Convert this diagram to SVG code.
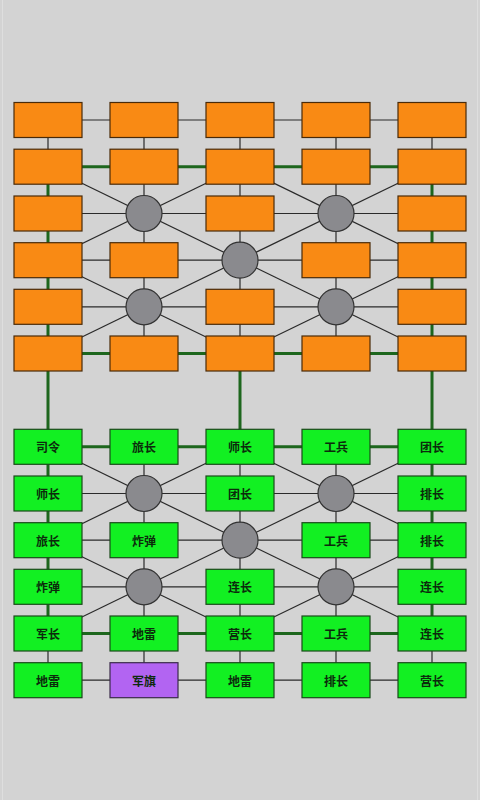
<svg xmlns="http://www.w3.org/2000/svg" width="480" height="800" viewBox="0 0 480 800">
<style>
.thin{stroke:#2a2a2a;stroke-width:1.2;fill:none}
.rail{stroke:#1d661d;stroke-width:3;fill:none}
.o{fill:#f98a14;stroke:#4a2a08;stroke-width:1.2}
.g{fill:#12f022;stroke:#1a4a1a;stroke-width:1.2}
.p{fill:#b264f2;stroke:#3a2a4a;stroke-width:1.2}
.camp{fill:#8a8a8e;stroke:#333;stroke-width:1.2}
text{font-family:"Noto Sans CJK SC","Noto Sans CJK TC",sans-serif;font-size:12px;font-weight:bold;fill:#0c2a0c;text-anchor:middle;dominant-baseline:central}
</style>
<rect width="480" height="800" fill="#d3d3d3"/>
<line x1="2.5" y1="0" x2="2.5" y2="800" stroke="#dedede" stroke-width="1"/>
<line x1="477.5" y1="0" x2="477.5" y2="800" stroke="#dedede" stroke-width="1"/>
<g id="connectors">
<g class="thin">
<line x1="48" y1="120" x2="432" y2="120"/>
<line x1="48" y1="213.5" x2="432" y2="213.5"/>
<line x1="48" y1="260.2" x2="432" y2="260.2"/>
<line x1="48" y1="306.8" x2="432" y2="306.8"/>
<line x1="48" y1="493.5" x2="432" y2="493.5"/>
<line x1="48" y1="540.2" x2="432" y2="540.2"/>
<line x1="48" y1="586.8" x2="432" y2="586.8"/>
<line x1="48" y1="680.2" x2="432" y2="680.2"/>
<line x1="48" y1="120" x2="48" y2="166.7"/>
<line x1="432" y1="120" x2="432" y2="166.7"/>
<line x1="48" y1="633.5" x2="48" y2="680.2"/>
<line x1="432" y1="633.5" x2="432" y2="680.2"/>
<line x1="144" y1="120" x2="144" y2="353.5"/>
<line x1="240" y1="120" x2="240" y2="353.5"/>
<line x1="336" y1="120" x2="336" y2="353.5"/>
<line x1="144" y1="446.8" x2="144" y2="680.2"/>
<line x1="240" y1="446.8" x2="240" y2="680.2"/>
<line x1="336" y1="446.8" x2="336" y2="680.2"/>
<line x1="48" y1="166.7" x2="432" y2="353.5"/>
<line x1="432" y1="166.7" x2="48" y2="353.5"/>
<line x1="240" y1="166.7" x2="48" y2="260.2"/>
<line x1="240" y1="166.7" x2="432" y2="260.2"/>
<line x1="48" y1="260.2" x2="240" y2="353.5"/>
<line x1="432" y1="260.2" x2="240" y2="353.5"/>
<line x1="48" y1="446.8" x2="432" y2="633.5"/>
<line x1="432" y1="446.8" x2="48" y2="633.5"/>
<line x1="240" y1="446.8" x2="48" y2="540.2"/>
<line x1="240" y1="446.8" x2="432" y2="540.2"/>
<line x1="48" y1="540.2" x2="240" y2="633.5"/>
<line x1="432" y1="540.2" x2="240" y2="633.5"/>
</g>
<g class="rail">
<line x1="48" y1="166.7" x2="432" y2="166.7"/>
<line x1="48" y1="353.5" x2="432" y2="353.5"/>
<line x1="48" y1="446.8" x2="432" y2="446.8"/>
<line x1="48" y1="633.5" x2="432" y2="633.5"/>
<line x1="48" y1="166.7" x2="48" y2="633.5"/>
<line x1="432" y1="166.7" x2="432" y2="633.5"/>
<line x1="240" y1="353.5" x2="240" y2="446.8"/>
</g>
</g>
<g id="top-half">
<rect id="o11" class="o" x="14" y="102.5" width="68" height="35"/>
<rect id="o12" class="o" x="110" y="102.5" width="68" height="35"/>
<rect id="o13" class="o" x="206" y="102.5" width="68" height="35"/>
<rect id="o14" class="o" x="302" y="102.5" width="68" height="35"/>
<rect id="o15" class="o" x="398" y="102.5" width="68" height="35"/>
<rect id="o21" class="o" x="14" y="149.2" width="68" height="35"/>
<rect id="o22" class="o" x="110" y="149.2" width="68" height="35"/>
<rect id="o23" class="o" x="206" y="149.2" width="68" height="35"/>
<rect id="o24" class="o" x="302" y="149.2" width="68" height="35"/>
<rect id="o25" class="o" x="398" y="149.2" width="68" height="35"/>
<rect id="o31" class="o" x="14" y="196" width="68" height="35"/>
<circle id="oc32" class="camp" cx="144" cy="213.5" r="18"/>
<rect id="o33" class="o" x="206" y="196" width="68" height="35"/>
<circle id="oc34" class="camp" cx="336" cy="213.5" r="18"/>
<rect id="o35" class="o" x="398" y="196" width="68" height="35"/>
<rect id="o41" class="o" x="14" y="242.7" width="68" height="35"/>
<rect id="o42" class="o" x="110" y="242.7" width="68" height="35"/>
<circle id="oc43" class="camp" cx="240" cy="260.2" r="18"/>
<rect id="o44" class="o" x="302" y="242.7" width="68" height="35"/>
<rect id="o45" class="o" x="398" y="242.7" width="68" height="35"/>
<rect id="o51" class="o" x="14" y="289.3" width="68" height="35"/>
<circle id="oc52" class="camp" cx="144" cy="306.8" r="18"/>
<rect id="o53" class="o" x="206" y="289.3" width="68" height="35"/>
<circle id="oc54" class="camp" cx="336" cy="306.8" r="18"/>
<rect id="o55" class="o" x="398" y="289.3" width="68" height="35"/>
<rect id="o61" class="o" x="14" y="336" width="68" height="35"/>
<rect id="o62" class="o" x="110" y="336" width="68" height="35"/>
<rect id="o63" class="o" x="206" y="336" width="68" height="35"/>
<rect id="o64" class="o" x="302" y="336" width="68" height="35"/>
<rect id="o65" class="o" x="398" y="336" width="68" height="35"/>
</g>
<g id="bottom-half">
<g id="g11"><rect class="g" x="14" y="429.3" width="68" height="35"/><text x="48" y="446.8">司令</text></g>
<g id="g12"><rect class="g" x="110" y="429.3" width="68" height="35"/><text x="144" y="446.8">旅长</text></g>
<g id="g13"><rect class="g" x="206" y="429.3" width="68" height="35"/><text x="240" y="446.8">师长</text></g>
<g id="g14"><rect class="g" x="302" y="429.3" width="68" height="35"/><text x="336" y="446.8">工兵</text></g>
<g id="g15"><rect class="g" x="398" y="429.3" width="68" height="35"/><text x="432" y="446.8">团长</text></g>
<g id="g21"><rect class="g" x="14" y="476" width="68" height="35"/><text x="48" y="493.5">师长</text></g>
<circle id="gc22" class="camp" cx="144" cy="493.5" r="18"/>
<g id="g23"><rect class="g" x="206" y="476" width="68" height="35"/><text x="240" y="493.5">团长</text></g>
<circle id="gc24" class="camp" cx="336" cy="493.5" r="18"/>
<g id="g25"><rect class="g" x="398" y="476" width="68" height="35"/><text x="432" y="493.5">排长</text></g>
<g id="g31"><rect class="g" x="14" y="522.7" width="68" height="35"/><text x="48" y="540.2">旅长</text></g>
<g id="g32"><rect class="g" x="110" y="522.7" width="68" height="35"/><text x="144" y="540.2">炸弹</text></g>
<circle id="gc33" class="camp" cx="240" cy="540.2" r="18"/>
<g id="g34"><rect class="g" x="302" y="522.7" width="68" height="35"/><text x="336" y="540.2">工兵</text></g>
<g id="g35"><rect class="g" x="398" y="522.7" width="68" height="35"/><text x="432" y="540.2">排长</text></g>
<g id="g41"><rect class="g" x="14" y="569.3" width="68" height="35"/><text x="48" y="586.8">炸弹</text></g>
<circle id="gc42" class="camp" cx="144" cy="586.8" r="18"/>
<g id="g43"><rect class="g" x="206" y="569.3" width="68" height="35"/><text x="240" y="586.8">连长</text></g>
<circle id="gc44" class="camp" cx="336" cy="586.8" r="18"/>
<g id="g45"><rect class="g" x="398" y="569.3" width="68" height="35"/><text x="432" y="586.8">连长</text></g>
<g id="g51"><rect class="g" x="14" y="616" width="68" height="35"/><text x="48" y="633.5">军长</text></g>
<g id="g52"><rect class="g" x="110" y="616" width="68" height="35"/><text x="144" y="633.5">地雷</text></g>
<g id="g53"><rect class="g" x="206" y="616" width="68" height="35"/><text x="240" y="633.5">营长</text></g>
<g id="g54"><rect class="g" x="302" y="616" width="68" height="35"/><text x="336" y="633.5">工兵</text></g>
<g id="g55"><rect class="g" x="398" y="616" width="68" height="35"/><text x="432" y="633.5">连长</text></g>
<g id="g61"><rect class="g" x="14" y="662.7" width="68" height="35"/><text x="48" y="680.2">地雷</text></g>
<g id="g62"><rect class="p" x="110" y="662.7" width="68" height="35"/><text x="144" y="680.2">军旗</text></g>
<g id="g63"><rect class="g" x="206" y="662.7" width="68" height="35"/><text x="240" y="680.2">地雷</text></g>
<g id="g64"><rect class="g" x="302" y="662.7" width="68" height="35"/><text x="336" y="680.2">排长</text></g>
<g id="g65"><rect class="g" x="398" y="662.7" width="68" height="35"/><text x="432" y="680.2">营长</text></g>
</g>
</svg>
